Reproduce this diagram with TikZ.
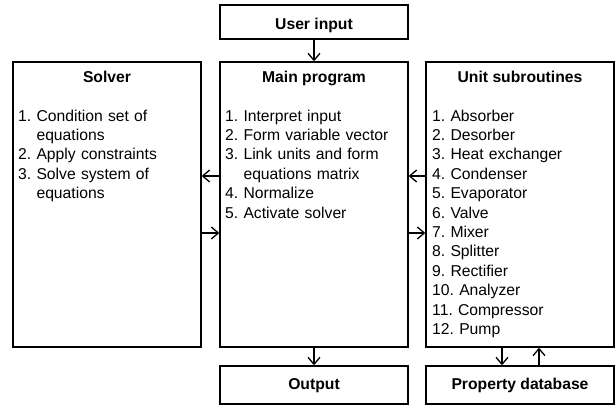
\documentclass[tikz,border=0pt]{standalone}
\usepackage{fontspec}
\setmainfont{Liberation Sans}
\usetikzlibrary{arrows.meta}

% first-line strut so that list nodes have a fixed top above the first baseline
\newcommand{\firststrut}{\rule{0pt}{12pt}}
\newcommand{\indentnum}{\phantom{1.\ }}

\tikzset{
  box/.style={draw=black, line width=1.4pt, rectangle, inner sep=0pt,
              minimum width=188pt},
  bigbox/.style={box, minimum height=285pt},
  smallbox/.style={box},
  title/.style={font=\fontsize{15.7}{19.4}\selectfont\bfseries, anchor=base, inner sep=0pt},
  items/.style={font=\fontsize{15.7}{19.4}\selectfont\frenchspacing, anchor=north west,
                inner sep=0pt, text width=182pt, align=left},
  arr/.style={-{Straight Barb[length=7pt,width=12pt,line width=1.3pt]}, line width=1.3pt}
}

\begin{document}
\begin{tikzpicture}[x=1pt, y=-1pt]
  \useasboundingbox (0,0) rectangle (616,406);

  % boxes
  \node[smallbox, minimum height=34pt] (user) at (314,22) {};
  \node[bigbox] (solver) at (107,204.5) {};
  \node[bigbox] (main)   at (314,204.5) {};
  \node[bigbox] (unit)   at (520,204.5) {};
  \node[smallbox, minimum height=38pt] (out)  at (314,385) {};
  \node[smallbox, minimum height=38pt] (prop) at (520,385) {};

  % titles
  \node[title] (userT) at (314,29.5) {User input};
  \node[title] (solverT) at (107,82.8) {Solver};
  \node[title] (mainT) at (314,82.8) {Main program};
  \node[title] (unitT) at (520,82.8) {Unit subroutines};
  \node[title] (outT) at (314,389.8) {Output};
  \node[title] (propT) at (520,389.8) {Property database};

  % lists
  \node[items] (solverL) at (18,109) {\firststrut 1. Condition set of\\
    \indentnum equations\\
    2. Apply constraints\\
    3. Solve system of\\
    \indentnum equations};
  \node[items] (mainL) at (225,109) {\firststrut 1. Interpret input\\
    2. Form variable vector\\
    3. Link units and form\\
    \indentnum equations matrix\\
    4. Normalize\\
    5. Activate solver};
  \node[items] (unitL) at (432,109) {\firststrut 1. Absorber\\
    2. Desorber\\
    3. Heat exchanger\\
    4. Condenser\\
    5. Evaporator\\
    6. Valve\\
    7. Mixer\\
    8. Splitter\\
    9. Rectifier\\
    10. Analyzer\\
    11. Compressor\\
    12. Pump};

  % connectors
  \draw[arr] (user.south) -- (main.north);
  \draw[arr] (main.south) -- (out.north);
  \draw[arr] (main.west |- 0,176) -- (solver.east |- 0,176);
  \draw[arr] (solver.east |- 0,233) -- (main.west |- 0,233);
  \draw[arr] (main.east |- 0,233) -- (unit.west |- 0,233);
  \draw[arr] (unit.west |- 0,176) -- (main.east |- 0,176);
  \draw[arr] ([xshift=-18pt]unit.south) -- ([xshift=-18pt]prop.north);
  \draw[arr] ([xshift=19pt]prop.north) -- ([xshift=19pt]unit.south);
\end{tikzpicture}
\end{document}
